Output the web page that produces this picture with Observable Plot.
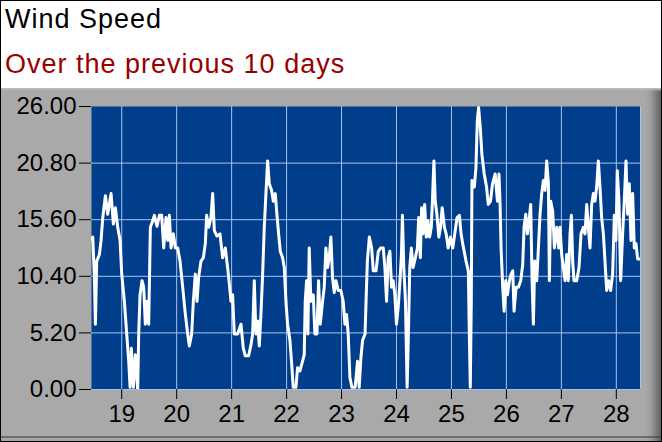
<!DOCTYPE html>
<html>
<head>
<meta charset="utf-8">
<script src="https://cdn.jsdelivr.net/npm/d3@7"></script>
<script src="https://cdn.jsdelivr.net/npm/@observablehq/plot@0.6"></script>
<style>
  html, body { margin: 0; padding: 0; background: #fff; }
  #wrap { position: relative; width: 662px; height: 442px; overflow: hidden; background: #fff; font-family: "Liberation Sans", Arial, sans-serif; }
  .ttl { position: absolute; left: 5px; font-size: 27px; line-height: 27px; letter-spacing: 1px; white-space: nowrap; }
  #title { top: 6px; color: #000; }
  #subtitle { top: 51px; color: #990000; }
  #frame { position: absolute; left: 0; top: 88px; width: 662px; height: 354px; background: #a9a9a9;
           box-shadow: inset 0 3px 2px -1px #bdbdbd, inset -12px 0 10px -5px rgba(0,0,0,0.45); }
  #bottomline { position: absolute; left: 0; top: 436px; width: 662px; height: 2px; background: rgba(60,60,60,0.55); }
  #border { position: absolute; left: 0; top: 0; width: 662px; height: 442px; box-sizing: border-box; border: 1px solid #000; pointer-events: none; }
  #frame svg { position: absolute; left: 0; top: 0; background: transparent; }
</style>
</head>
<body>
<div id="wrap">
  <div id="title" class="ttl">Wind Speed</div>
  <div id="subtitle" class="ttl">Over the previous 10 days</div>
  <div id="frame"></div>
  <div id="bottomline"></div>
  <div id="border"></div>
</div>
<script>
// Day of month (fractional) for each reading
const days = [
  18.45,18.473,18.503,18.521,18.545,18.594,18.624,18.655,18.703,18.745,18.806,
  18.848,18.885,18.927,18.970,19.000,19.048,19.091,19.127,19.152,19.176,
  19.212,19.248,19.291,19.309,19.333,19.370,19.400,19.430,19.461,19.491,
  19.521,19.564,19.594,19.642,19.685,19.727,19.764,19.806,19.836,19.867,
  19.897,19.939,19.976,20.018,20.061,20.109,20.158,20.200,20.230,20.273,
  20.303,20.339,20.370,20.400,20.442,20.485,20.521,20.545,20.582,20.624,
  20.655,20.685,20.733,20.788,20.836,20.885,20.927,
  20.958,20.988,21.018,21.048,21.109,21.170,21.212,21.248,21.309,21.352,
  21.382,21.412,21.442,21.473,21.503,21.533,21.564,21.594,21.624,21.655,
  21.685,21.727,21.758,21.794,21.824,21.855,21.885,21.927,21.958,21.988,
  22.018,22.061,22.097,22.121,22.170,22.200,22.242,22.291,22.321,22.339,
  22.364,22.388,22.412,22.442,22.485,22.515,22.552,22.582,22.612,22.655,
  22.685,22.715,22.745,22.776,22.806,22.836,22.867,22.897,22.939,22.988,
  23.030,23.061,23.091,23.121,23.152,23.188,23.248,23.291,23.321,23.352,
  23.382,
  23.428,23.446,23.470,23.506,23.548,23.578,23.627,23.669,23.711,23.759,
  23.789,23.819,23.849,23.880,23.910,23.940,23.970,24.000,24.030,24.060,
  24.090,24.108,24.133,24.163,24.193,24.217,24.241,24.271,24.301,24.343,
  24.380,24.404,24.434,24.458,24.482,24.512,24.542,24.572,24.602,24.633,
  24.651,24.681,24.705,24.735,24.771,24.801,24.831,24.873,24.904,24.940,
  24.982,25.024,25.060,25.102,25.145,25.175,25.205,25.265,25.307,25.325,
  25.343,25.361,25.373,25.416,25.446,25.470,25.494,25.524,25.554,25.596,
  25.639,25.669,25.711,25.747,25.795,25.837,25.865,
  25.885,25.903,25.933,25.958,25.988,26.018,26.055,26.085,26.115,26.139,
  26.176,26.218,26.261,26.297,26.321,26.352,26.382,26.412,26.442,26.467,
  26.491,26.515,26.552,26.582,26.612,26.642,26.673,26.703,26.733,26.764,
  26.782,26.806,26.842,26.873,26.915,26.952,26.976,27.006,27.036,27.067,
  27.097,27.127,27.158,27.182,27.206,27.230,27.279,27.321,27.358,27.400,
  27.430,27.461,27.491,27.521,27.552,27.582,27.612,27.642,27.673,27.703,
  27.733,27.764,27.794,27.824,27.861,27.897,27.933,27.964,27.994,28.018,
  28.048,28.079,28.115,28.145,28.176,28.206,28.236,28.267,28.297,28.327,
  28.358,28.388,28.418,28.44
];
// Wind speed readings
const speed = [
  13.8,14.0,10.3,6.0,11.8,12.4,13.7,15.8,17.8,16.1,18.0,
  15.2,16.7,14.9,13.7,10.6,8.1,5.1,2.6,0.2,3.8,
  0.2,3.2,0,5.1,8.7,10.0,9.4,6.0,8.1,6.0,
  14.9,15.5,16.0,15.0,16.0,16.0,13.0,15.8,13.7,16.0,
  13.0,14.3,13.0,13.0,11.8,9.4,6.9,5.1,4.0,5.1,
  8.1,10.6,8.1,10.3,11.8,12.1,13.4,16.0,14.9,15.8,
  18.0,14.6,14.1,14.3,12.1,13.0,11.2,
  9.7,8.1,8.7,5.1,5.1,6.0,3.8,3.1,3.1,4.1,
  5.1,10.0,5.1,6.3,4.0,6.9,10.6,14.9,18.0,21.0,
  18.9,18.3,17.3,18.0,16.1,14.3,12.7,12.1,11.2,8.1,
  6.0,4.5,2.0,0.2,0.2,2.0,1.7,2.6,3.2,8.1,
  10.0,5.1,13.0,8.1,8.7,5.1,5.1,10.0,6.0,8.1,
  9.4,13.0,11.2,12.1,14.0,10.3,8.9,10.0,9.1,9.1,
  8.1,6.0,6.9,5.1,1.1,0.2,0.2,2.6,0.2,2.9,
  4.5,
  5.1,8.1,11.8,14.0,13.0,10.9,10.9,12.7,13.0,13.0,
  11.2,8.1,12.1,12.7,9.4,10.0,8.7,6.0,7.5,9.7,
  12.4,16.0,11.2,8.1,0.2,5.1,11.2,13.0,11.2,12.1,
  13.0,15.8,12.1,16.7,14.3,17.0,14.0,15.5,14.0,14.9,
  17.0,21.0,17.3,16.1,14.0,14.9,16.7,14.9,14.3,13.0,
  14.0,13.0,14.3,15.8,16.0,14.3,13.4,11.8,10.9,5.1,
  0.2,8.1,19.2,18.6,20.4,24.7,25.9,24.1,21.6,19.8,
  18.6,17.0,17.3,18.9,19.8,17.3,19.8,
  17.0,13.0,9.4,7.2,10.0,8.7,10.0,10.6,10.9,7.2,
  9.4,9.4,10.0,11.5,14.9,16.1,14.3,15.5,17.0,10.0,
  6.0,11.8,10.0,13.0,16.1,18.0,19.2,18.3,21.0,18.9,
  10.0,17.3,16.4,13.0,14.9,13.0,14.9,12.4,11.2,10.0,
  12.4,10.0,14.3,16.0,11.8,10.0,10.0,11.2,14.3,14.9,
  14.3,17.0,14.9,13.0,17.0,18.0,17.3,18.6,21.0,18.6,
  15.8,14.3,11.8,9.1,10.0,9.1,10.6,16.0,13.7,20.1,
  17.3,10.0,14.3,17.3,21.0,16.1,18.9,13.7,18.0,13.0,
  13.4,12.0,12.0,12.0
];
const xTicks = [19, 20, 21, 22, 23, 24, 25, 26, 27, 28];
const yTicks = [0, 5.2, 10.4, 15.6, 20.8, 26];
const xDomain = [18.45, 28.44];
const yDomain = [0, 26];

const data = days.map((d, i) => ({day: d, speed: speed[i]}));
const gridColor = "#a3c4f3";

const chart = Plot.plot({
  width: 662,
  height: 354,
  marginTop: 18,
  marginBottom: 53,
  marginLeft: 91,
  marginRight: 22,
  style: {background: "transparent", color: "#000", fontFamily: "'Liberation Sans', Arial, sans-serif", fontSize: "24px"},
  x: {domain: xDomain, axis: null},
  y: {domain: yDomain, axis: null},
  marks: [
    Plot.frame({fill: "#003e8c", stroke: null}),
    Plot.gridX(xTicks, {stroke: gridColor, strokeOpacity: 1, strokeWidth: 1}),
    Plot.gridY(yTicks.filter(t => t < 26), {stroke: gridColor, strokeOpacity: 1, strokeWidth: 1}),
    Plot.ruleX([xDomain[1]], {stroke: gridColor, strokeWidth: 1}),
    Plot.line(data, {x: "day", y: "speed", stroke: "#fff", strokeWidth: 3, strokeLinejoin: "round", clip: true}),
    Plot.axisX({ticks: xTicks, tickFormat: d => String(d), tickSize: 10, tickPadding: 5, fontSize: 24, stroke: "#000", label: null}),
    Plot.axisY({ticks: yTicks, tickFormat: d3.format(".2f"), tickSize: 12, tickPadding: 3, fontSize: 24, stroke: "#000", label: null})
  ]
});
document.getElementById("frame").appendChild(chart);
</script>
</body>
</html>
